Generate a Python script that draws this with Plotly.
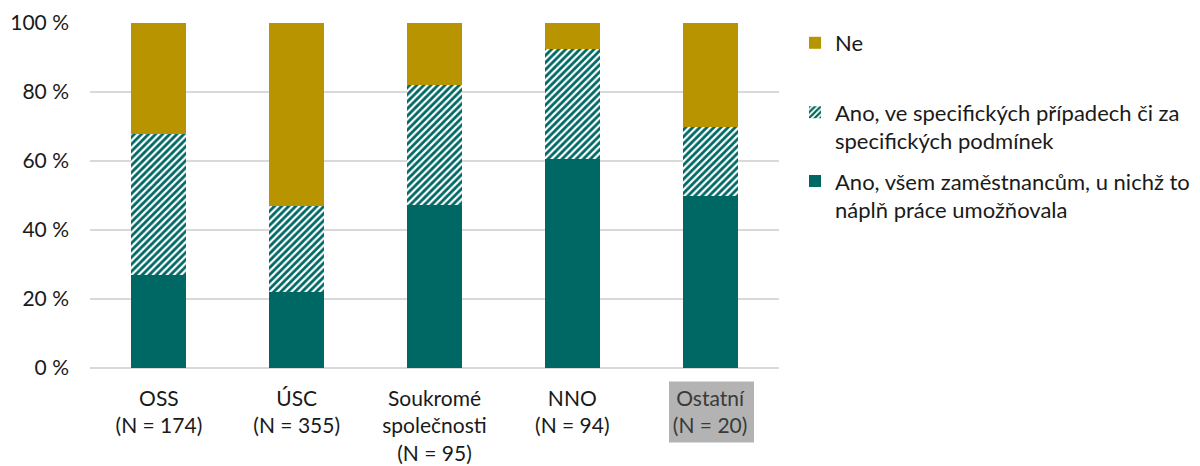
import plotly.graph_objects as go

categories = ["OSS<br>(N = 174)", "ÚSC<br>(N = 355)", "Soukromé<br>společnosti<br>(N = 95)",
              "NNO<br>(N = 94)", "<span style='color:#3a3a3a'>Ostatní<br>(N = 20)</span>"]
all_employees = [27.0, 22.0, 47.3, 60.6, 50.0]
specific_cases = [40.7, 25.0, 34.8, 31.9, 20.0]
no_values = [32.3, 53.0, 17.9, 7.5, 30.0]
y_ticks = [0, 20, 40, 60, 80, 100]
y_tick_labels = ["0 %", "20 %", "40 %", "60 %", "80 %", "100 %"]

name_all = "Ano, všem zaměstnancům, u nichž to<br>náplň práce umožňovala"
name_spec = "Ano, ve specifických případech či za<br>specifických podmínek"
name_no = "Ne"

TEAL = "#006864"
GOLD = "#B89400"
FONT = "Lato"
FS = 21
LFS = 22

x = list(range(len(categories)))

fig = go.Figure()
fig.add_trace(go.Bar(x=x, y=all_employees, name=name_all, marker=dict(color=TEAL, line=dict(width=0)),
                     width=0.4, legend="legend3", showlegend=True))
fig.add_trace(go.Bar(x=x, y=specific_cases, name=name_spec,
                     marker=dict(color="white", line=dict(width=0),
                                 pattern=dict(shape="/", fgcolor=TEAL, bgcolor="white", size=5,
                                              solidity=0.55, fgopacity=1)),
                     width=0.4, legend="legend2", showlegend=True))
fig.add_trace(go.Bar(x=x, y=no_values, name=name_no, marker=dict(color=GOLD, line=dict(width=0)),
                     width=0.4, legend="legend", showlegend=True))

L, R, T, B = 90, 779, 23, 368.5
W, H = 1200, 466
pw, ph = R - L, B - T

def px_x(p):
    return (p - L) / pw

def px_y(p):
    return (B - p) / ph

leg_common = dict(font=dict(family=FONT, size=LFS, color="#1a1a1a"), bgcolor="rgba(0,0,0,0)",
                  borderwidth=0, xanchor="left", yanchor="middle", valign="top", itemclick=False,
                  visible=True)

fig.update_layout(
    width=W, height=H,
    margin=dict(l=L, r=W - R, t=T, b=H - B, autoexpand=False),
    plot_bgcolor="white", paper_bgcolor="white",
    barmode="stack",
    showlegend=True,
    hovermode=False,
    font=dict(family=FONT, size=FS, color="#1a1a1a"),
    legend=dict(x=px_x(795), y=px_y(43), **leg_common),
    legend2=dict(x=px_x(795), y=px_y(127), **leg_common),
    legend3=dict(x=px_x(795), y=px_y(196), **leg_common),
    xaxis=dict(tickvals=x, ticktext=categories, range=[-0.5, 4.5], showgrid=False, automargin=False,
               showline=False, zeroline=False, ticks="", ticklabelstandoff=16,
               tickfont=dict(family=FONT, size=FS, color="#1a1a1a")),
    yaxis=dict(tickvals=y_ticks, ticktext=y_tick_labels, range=[0, 100], showgrid=True, gridcolor="#D9D9D9",
               gridwidth=1.5, zeroline=True, zerolinecolor="#D9D9D9", zerolinewidth=1.5, automargin=False,
               showline=False, ticks="", ticklabelstandoff=20,
               tickfont=dict(family=FONT, size=FS, color="#1a1a1a")),
    shapes=[dict(type="rect", xref="paper", yref="paper", layer="below",
                 x0=px_x(669), x1=px_x(754), y0=px_y(443), y1=px_y(382),
                 fillcolor="#B3B3B3", line=dict(width=0))],
)

fig.write_html("out.html", config={"displayModeBar": False},
               post_script="document.body.style.margin='0';")
